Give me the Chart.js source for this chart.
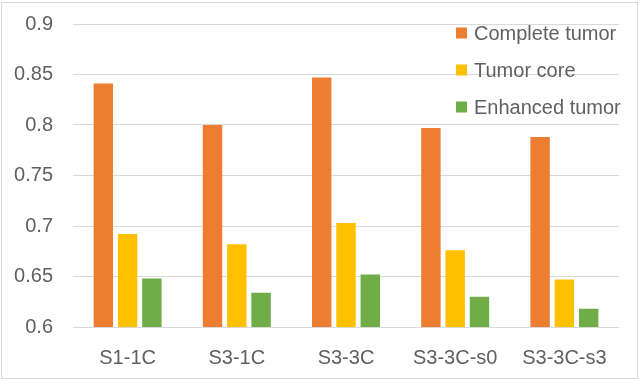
<!DOCTYPE html>
<html>
<head>
<meta charset="utf-8">
<script src="https://cdn.jsdelivr.net/npm/chart.js@4/dist/chart.umd.min.js"></script>
<style>
    html, body { margin: 0; padding: 0; background: #fff; }
    #wrap { width: 640px; height: 380px; position: relative; }
</style>
</head>
<body>
<div id="wrap"><canvas id="diceChart" width="640" height="380"></canvas></div>
<script>
const categories = ['S1-1C', 'S3-1C', 'S3-3C', 'S3-3C-s0', 'S3-3C-s3'];
const completeTumor = [0.841, 0.800, 0.847, 0.797, 0.788];
const tumorCore = [0.692, 0.682, 0.703, 0.676, 0.647];
const enhancedTumor = [0.648, 0.634, 0.652, 0.630, 0.618];
const yTickLabels = ['0.6', '0.65', '0.7', '0.75', '0.8', '0.85', '0.9'];

const textColor = '#606060';
const fontFamily = '"Liberation Sans", Arial, sans-serif';

// legend inside plot, top right
const boxLegend = {
    id: 'boxLegend',
    afterDraw(chart) {
        const ctx = chart.ctx;
        ctx.save();
        ctx.font = '20px ' + fontFamily;
        ctx.textBaseline = 'middle';
        chart.data.datasets.forEach((ds, i) => {
            const cy = 33 + i * 37;
            ctx.fillStyle = ds.backgroundColor;
            ctx.fillRect(456, cy - 5.5, 11, 11);
            ctx.fillStyle = textColor;
            ctx.fillText(ds.label, 474, cy + 1);
        });
        ctx.restore();
    }
};

// thin frame round the chart
const frame = {
    id: 'frame',
    beforeDraw(chart) {
        const ctx = chart.ctx;
        ctx.save();
        ctx.fillStyle = '#fff';
        ctx.fillRect(0, 0, chart.width, chart.height);
        ctx.strokeStyle = '#d9d9d9';
        ctx.lineWidth = 1;
        ctx.strokeRect(1.5, 2.5, 636, 376);
        ctx.restore();
    }
};

const ctx = document.getElementById('diceChart').getContext('2d');
const diceChart = new Chart(ctx, {
    type: 'bar',
    data: {
        labels: categories,
        datasets: [{
            label: 'Complete tumor',
            data: completeTumor,
            backgroundColor: '#ED7D31',
        }, {
            label: 'Tumor core',
            data: tumorCore,
            backgroundColor: '#FFC000',
        }, {
            label: 'Enhanced tumor',
            data: enhancedTumor,
            backgroundColor: '#70AD47',
        }]
    },
    options: {
        responsive: false,
        animation: false,
        categoryPercentage: 0.667,
        barPercentage: 0.8,
        layout: {
            padding: { top: 24, right: 21, left: 0, bottom: 0 }
        },
        plugins: {
            legend: { display: false },
            tooltip: { enabled: false },
        },
        scales: {
            x: {
                grid: { display: false },
                border: { display: false },
                ticks: {
                    color: textColor,
                    font: { family: fontFamily, size: 20 },
                    padding: 11,
                },
                afterFit(scale) {
                    scale.height = 53;
                    scale.paddingLeft = 0;
                    scale.paddingRight = 0;
                }
            },
            y: {
                min: 0.6,
                max: 0.9,
                border: { display: false },
                grid: {
                    color: '#d9d9d9',
                    lineWidth: 1,
                    drawTicks: false,
                },
                ticks: {
                    stepSize: 0.05,
                    color: textColor,
                    font: { family: fontFamily, size: 20 },
                    padding: 20,
                    callback: (value, index) => yTickLabels[index],
                },
                afterFit(scale) {
                    scale.width = 73;
                    scale.paddingTop = 0;
                    scale.paddingBottom = 0;
                }
            }
        }
    },
    plugins: [frame, boxLegend],
});
</script>
</body>
</html>
